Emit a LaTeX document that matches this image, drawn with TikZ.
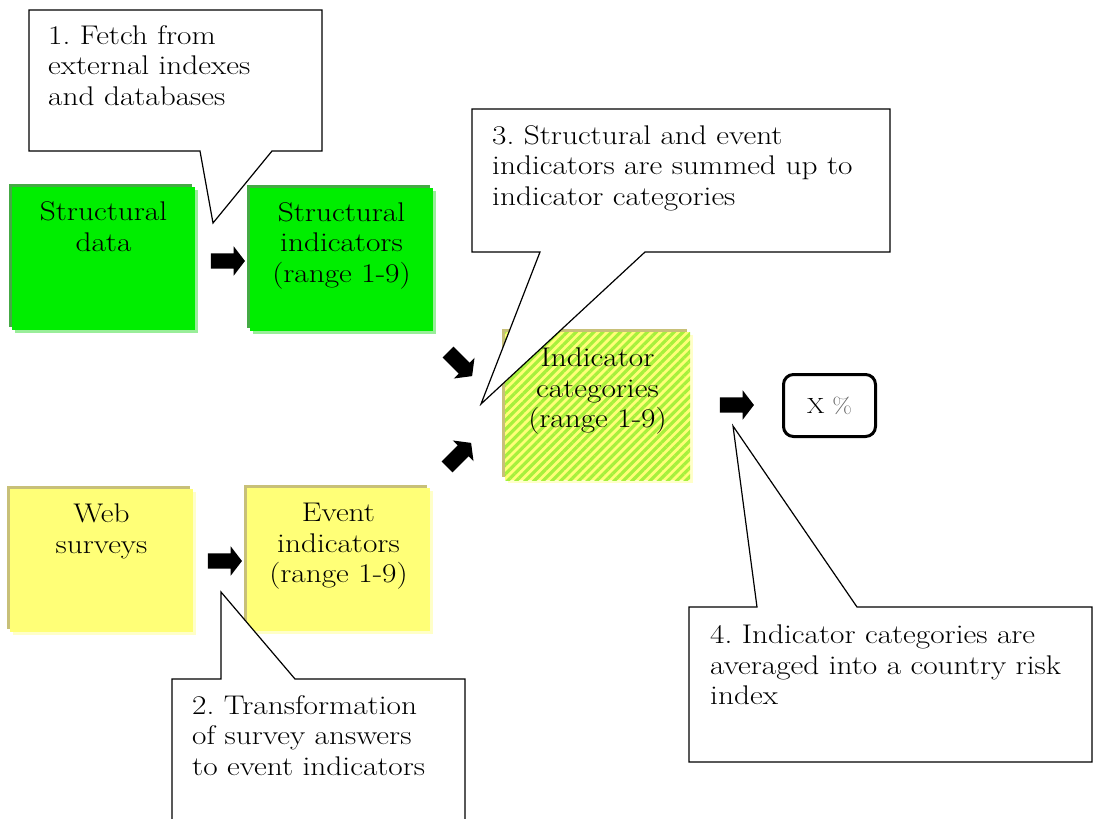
\documentclass[tikz,border=0pt]{standalone}
\usepackage{fontspec}
\setmainfont{Latin Modern Roman}[FakeStretch=1.16]
\usetikzlibrary{positioning,shapes.arrows,shadows,patterns.meta}
\definecolor{boxgreen}{HTML}{00EE00}
\definecolor{greendark}{HTML}{44AA44}
\definecolor{greenlight}{HTML}{99EE99}
\definecolor{boxyellow}{HTML}{FFFF77}
\definecolor{yellowdark}{HTML}{C8C078}
\definecolor{yellowlight}{HTML}{FFFFC8}
\definecolor{stripegreen}{HTML}{A6F03C}
\frenchspacing
\begin{document}
\begin{tikzpicture}[
            x=1pt, y=-1pt,
            every node/.style={font=\fontsize{27}{30.5}\selectfont, inner sep=0pt},
            databox/.style={rectangle, minimum width=183pt, minimum height=143pt},
            greenbox/.style={databox, fill=boxgreen,
                    general shadow={shadow xshift=-3pt, shadow yshift=3pt, fill=greendark},
                    general shadow={shadow xshift=3pt, shadow yshift=-3pt, fill=greenlight}},
            yellowbox/.style={databox, fill=boxyellow,
                    general shadow={shadow xshift=-3pt, shadow yshift=3pt, fill=yellowdark},
                    general shadow={shadow xshift=3pt, shadow yshift=-3pt, fill=yellowlight}},
            stripebox/.style={yellowbox,
                    postaction={pattern={Lines[angle=45, distance=6.3pt, line width=3.2pt]},
                            pattern color=stripegreen}},
            boxtext/.style={align=center},
            blockarrow/.style={single arrow, fill=black, minimum height=34pt,
                    inner xsep=0pt, inner ysep=7.5pt, single arrow head extend=7pt,
                    single arrow tip angle=105},
            callout/.style={draw, fill=white, line width=1.2pt, line join=miter},
            notetext/.style={align=left, anchor=north west}
        ]
        \useasboundingbox (0,0) rectangle (1093,819);

        % data and indicator boxes
        \node[greenbox] (sdata) at (103.5,258.5) {};
        \node[boxtext, below=15pt of sdata.north] (sdatatext) {Structural\\data};
        \node[greenbox] (sind) at (341.5,259) {};
        \node[boxtext, below=15pt of sind.north] (sindtext) {Structural\\indicators\\(range 1-9)};
        \node[yellowbox] (web) at (101.5,560.5) {};
        \node[boxtext, below=15pt of web.north] (webtext) {Web\\surveys};
        \node[yellowbox] (evt) at (338.5,559) {};
        \node[boxtext, below=16pt of evt.north] (evttext) {Event\\indicators\\(range 1-9)};
        \node[stripebox, minimum width=185pt, minimum height=148pt] (cat) at (597.5,406) {};
        \node[boxtext, below=16pt of cat.north] (cattext) {Indicator\\categories\\(range 1-9)};
        \node[draw, line width=3pt, rounded corners=10pt, minimum width=92pt,
            minimum height=62pt, font=\fontsize{22}{25}\selectfont] (risk) at (829.5,405.5)
            {X {\color{black!60}\%}};

        % block arrows
        \node[blockarrow] (arr1) at (225,261) {};
        \node[blockarrow] (arr2) at (222,561) {};
        \node[blockarrow, rotate=-45] (arr3) at (458,362) {};
        \node[blockarrow, rotate=45] (arr4) at (457,457) {};
        \node[blockarrow] (arr5) at (734,405) {};

        % callouts
        \coordinate (tip1) at (213,223);
        \coordinate (tip2) at (221,592);
        \coordinate (tip3) at (481,404);
        \coordinate (tip4) at (733,426);
        \draw[callout] (29,10) -- (322,10) -- (322,151) -- (272,151) -- (tip1)
            -- (200,151) -- (29,151) -- cycle;
        \draw[callout] (172,679) -- (221,679) -- (tip2) -- (295,679) -- (465,679)
            -- (465,830) -- (172,830) -- cycle;
        \draw[callout] (472,109) -- (890,109) -- (890,252) -- (645,252) -- (tip3)
            -- (540,252) -- (472,252) -- cycle;
        \draw[callout] (689,607) -- (757,607) -- (tip4) -- (857,607) -- (1092,607)
            -- (1092,762) -- (689,762) -- cycle;
        \node[notetext] (note1) at (48,25) {1. Fetch from\\external indexes\\and databases};
        \node[notetext] (note2) at (192,695) {2. Transformation\\of survey answers\\to event indicators};
        \node[notetext] (note3) at (492,125) {3. Structural and event\\indicators are summed up to\\indicator categories};
        \node[notetext] (note4) at (710,625) {4. Indicator categories are\\averaged into a country risk\\index};
    \end{tikzpicture}
\end{document}
